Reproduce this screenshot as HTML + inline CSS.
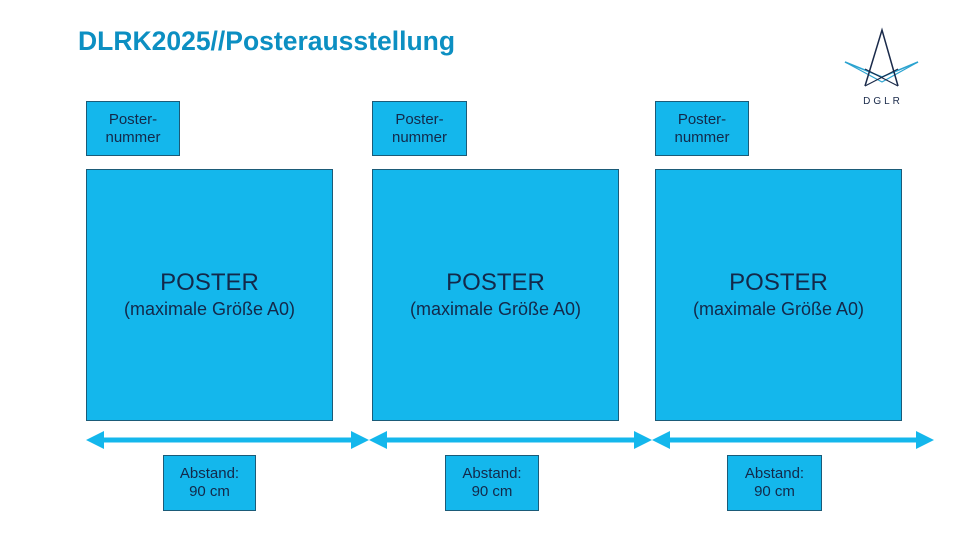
<!DOCTYPE html>
<html><head><meta charset="utf-8"><style>
body{margin:0;width:960px;height:540px;background:#fff;position:relative;overflow:hidden;font-family:"Liberation Sans",sans-serif}
.b{position:absolute;background:#14b7ec;border:1px solid #1b5b78;box-sizing:border-box;display:flex;flex-direction:column;align-items:center;justify-content:center;text-align:center;color:#13294a}
.s{font-size:15px;line-height:18px}
.p1{font-size:24px;line-height:28px}
.p2{font-size:18px;line-height:24px}
h1{position:absolute;left:78px;top:26px;margin:0;font-size:26.5px;color:#0c8fc2;font-weight:bold}
</style></head><body>
<h1>DLRK2025//Posterausstellung</h1>
<svg style="position:absolute;left:840px;top:25px" width="90" height="85">
<polyline points="5,37 42,52 78,37" fill="none" stroke="#2ba3d0" stroke-width="1.5"/>
<polyline points="5,37 42,57 78,37" fill="none" stroke="#2ba3d0" stroke-width="1.2"/>
<polyline points="25,61 42,5 58,61" fill="none" stroke="#1a2a4a" stroke-width="1.5"/>
<line x1="25" y1="61" x2="58" y2="44" stroke="#1a2a4a" stroke-width="1.2"/>
<line x1="58" y1="61" x2="25" y2="44" stroke="#1a2a4a" stroke-width="1.2"/>
<text x="43" y="79" text-anchor="middle" font-family="Liberation Sans" font-size="10" letter-spacing="3" fill="#1a2a4a">DGLR</text>
</svg>
<div class="b s" style="left:86px;top:101px;width:94px;height:55px">Poster-<br>nummer</div>
<div class="b s" style="left:372px;top:101px;width:95px;height:55px">Poster-<br>nummer</div>
<div class="b s" style="left:655px;top:101px;width:94px;height:55px">Poster-<br>nummer</div>
<div class="b" style="left:86px;top:169px;width:247px;height:252px"><div class="p1">POSTER</div><div class="p2">(maximale Größe A0)</div></div>
<div class="b" style="left:372px;top:169px;width:247px;height:252px"><div class="p1">POSTER</div><div class="p2">(maximale Größe A0)</div></div>
<div class="b" style="left:655px;top:169px;width:247px;height:252px"><div class="p1">POSTER</div><div class="p2">(maximale Größe A0)</div></div>
<svg style="position:absolute;left:0;top:0" width="960" height="540">
<g fill="#14b7ec">
<rect x="100" y="437.5" width="255" height="5"/>
<polygon points="86,440 104,431 104,449"/><polygon points="369,440 351,431 351,449"/>
<rect x="383" y="437.5" width="255" height="5"/>
<polygon points="369,440 387,431 387,449"/><polygon points="652,440 634,431 634,449"/>
<rect x="666" y="437.5" width="255" height="5"/>
<polygon points="652,440 670,431 670,449"/><polygon points="934,440 916,431 916,449"/>
</g></svg>
<div class="b s" style="left:163px;top:455px;width:93px;height:56px">Abstand:<br>90 cm</div>
<div class="b s" style="left:445px;top:455px;width:94px;height:56px">Abstand:<br>90 cm</div>
<div class="b s" style="left:727px;top:455px;width:95px;height:56px">Abstand:<br>90 cm</div>
</body></html>
